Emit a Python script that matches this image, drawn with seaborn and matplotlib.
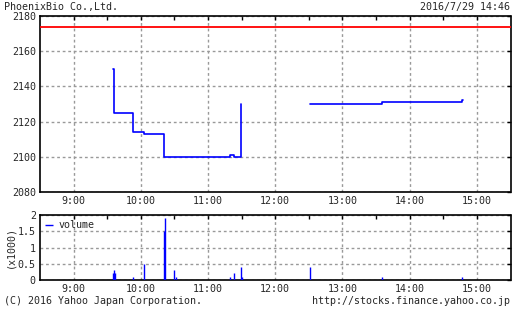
import matplotlib
matplotlib.use("Agg")
import matplotlib.pyplot as plt
import seaborn as sns
import pandas as pd
import numpy as np

# ---- data ----
title_left = "PhoenixBio Co.,Ltd."
title_right = "2016/7/29 14:46"
footer_left = "(C) 2016 Yahoo Japan Corporation."
footer_right = "http://stocks.finance.yahoo.co.jp"

prev_close = 2174

am_times = ["9:35.5", "9:36", "9:53", "10:03", "10:21", "11:20", "11:23", "11:29", "11:29.6"]
am_prices = [2150, 2125, 2114, 2113, 2100, 2101, 2100, 2130, 2130]
pm_times = ["12:30.7", "13:35", "14:47", "14:47.3"]
pm_prices = [2130, 2131, 2132, 2132]

vol_times = ["9:35", "9:36", "9:37", "9:53", "10:03", "10:21", "10:22", "10:30", "10:31",
             "11:20", "11:23", "11:29", "11:30", "12:31", "13:35", "14:47"]
vol_values = [0.22, 0.31, 0.22, 0.09, 0.5, 1.5, 1.9, 0.31, 0.09,
              0.09, 0.22, 0.4, 0.09, 0.4, 0.09, 0.09]

price_ticks = [2080, 2100, 2120, 2140, 2160, 2180]
vol_ticks = [0, 0.5, 1, 1.5, 2]
vol_tick_labels = ["0", "0.5", "1", "1.5", "2"]
hour_ticks = ["9:00", "10:00", "11:00", "12:00", "13:00", "14:00", "15:00"]


def to_h(s):
    h, m = s.split(":")
    return int(h) + float(m) / 60.0


am = pd.DataFrame({"t": [to_h(s) for s in am_times], "price": am_prices})
pm = pd.DataFrame({"t": [to_h(s) for s in pm_times], "price": pm_prices})
vol = pd.DataFrame({"t": [to_h(s) for s in vol_times], "v": vol_values})

sns.set_style("white")
plt.rcParams["font.family"] = ["DejaVu Sans Mono"]
FS = 7.2

W, H = 512, 310
fig = plt.figure(figsize=(W / 100, H / 100), dpi=100)
ax1 = fig.add_axes([40 / W, 1 - 192 / H, 470.5 / W, 176 / H])
ax2 = fig.add_axes([40 / W, 1 - 280 / H, 470.5 / W, 65 / H])

xmin, xmax = 8.5, 15.5
hour_pos = [to_h(s) for s in hour_ticks]
minor_pos = [h + 0.5 for h in hour_pos[:-1]]

grid_kw = dict(color="#999999", linestyle=(0, (2, 2)), linewidth=1.0)

for ax in (ax1, ax2):
    ax.set_xlim(xmin, xmax)
    ax.set_xticks(hour_pos)
    ax.set_xticklabels(hour_ticks, fontsize=FS)
    ax.set_xticks(minor_pos, minor=True)
    ax.tick_params(which="both", direction="in", top=True, right=True, length=3,
                   width=1, color="black", labelsize=FS, pad=3)
    ax.grid(True, axis="both", which="major", **grid_kw)
    for sp in ax.spines.values():
        sp.set_color("black")
        sp.set_linewidth(1.2)
    ax.set_facecolor("white")

# price chart
ax1.axhline(prev_close, color="#ff0000", linewidth=1.3, zorder=3)
sns.lineplot(data=am, x="t", y="price", ax=ax1, color="#0000ff", linewidth=1.2,
             drawstyle="steps-post", estimator=None, sort=False, zorder=4)
sns.lineplot(data=pm, x="t", y="price", ax=ax1, color="#0000ff", linewidth=1.2,
             drawstyle="steps-post", estimator=None, sort=False, zorder=4)
ax1.set_ylim(2080, 2180)
ax1.set_yticks(price_ticks)
ax1.set_yticklabels([str(v) for v in price_ticks], fontsize=FS)
ax1.set_xlabel("")
ax1.set_ylabel("")

# volume chart
ax2.vlines(vol["t"], 0, vol["v"], color="#0000ff", linewidth=1.0, label="volume", zorder=4)
ax2.set_ylim(0, 2)
ax2.set_yticks(vol_ticks)
ax2.set_yticklabels(vol_tick_labels, fontsize=FS)
ax2.set_ylabel("(x1000)", fontsize=FS, labelpad=2)
ax2.set_xlabel("")
leg = ax2.legend(loc="upper left", frameon=False, fontsize=FS, handlelength=0.8,
                 handletextpad=0.6, borderaxespad=0.3, borderpad=0.2)

fig.text(4 / W, 1 - 7 / H, title_left, fontsize=FS, ha="left", va="center")
fig.text(510 / W, 1 - 7 / H, title_right, fontsize=FS, ha="right", va="center")
fig.text(4 / W, 1 - 301 / H, footer_left, fontsize=FS, ha="left", va="center")
fig.text(510 / W, 1 - 301 / H, footer_right, fontsize=FS, ha="right", va="center")

fig.savefig("out.png", dpi=100, facecolor="white")
